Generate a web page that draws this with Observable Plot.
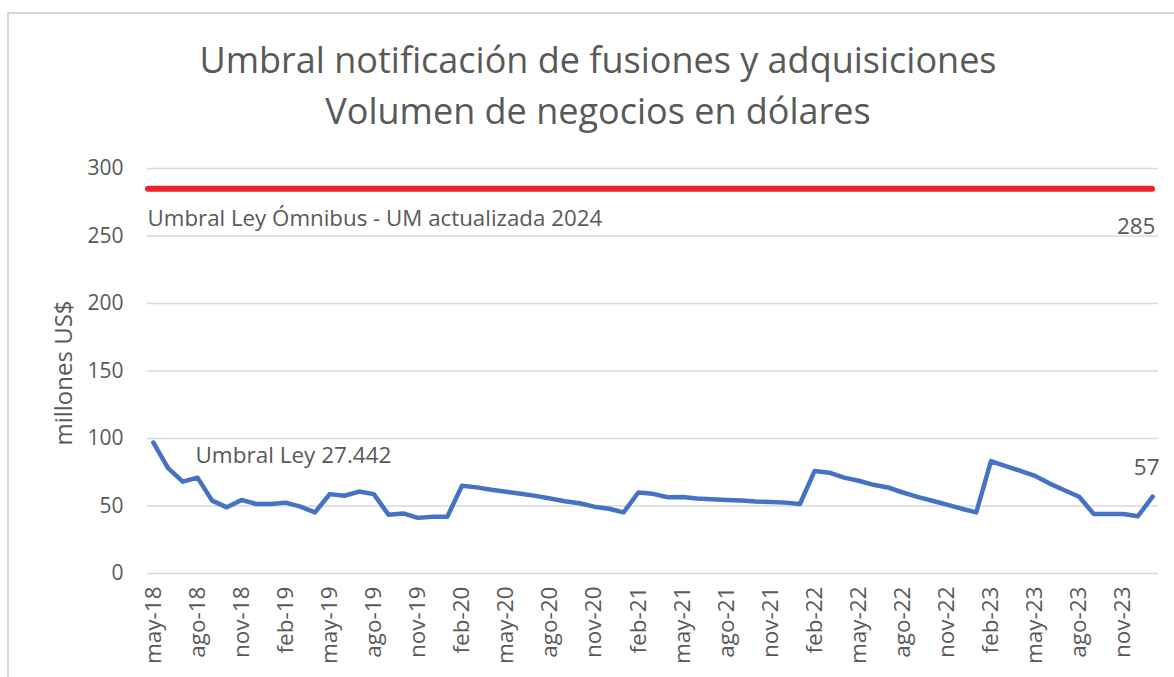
<!DOCTYPE html>
<html><head><meta charset="utf-8">
<script src="https://cdn.jsdelivr.net/npm/d3@7"></script>
<script src="https://cdn.jsdelivr.net/npm/@observablehq/plot@0.6"></script>
<style>
body{margin:0;width:1174px;height:677px;overflow:hidden;background:#fff;font-family:"Open Sans",sans-serif;position:relative}
#frame{position:absolute;left:7px;top:12px;width:1300px;height:800px;border:2px solid #d6d6d6;}
#title{position:relative;height:138px;box-sizing:border-box;padding-top:34px;padding-left:22px;text-align:center;color:#595959;font-size:36px;line-height:51px;}
#chart{position:relative}
</style></head><body>
<div id="frame"></div>
<div id="title"><div>Umbral notificación de fusiones y adquisiciones</div><div>Volumen de negocios en dólares</div></div>
<div id="chart"></div>
<script>
const months = [
  "may-18","jun-18","jul-18","ago-18","sep-18","oct-18","nov-18","dic-18",
  "ene-19","feb-19","mar-19","abr-19","may-19","jun-19","jul-19","ago-19","sep-19","oct-19","nov-19","dic-19",
  "ene-20","feb-20","mar-20","abr-20","may-20","jun-20","jul-20","ago-20","sep-20","oct-20","nov-20","dic-20",
  "ene-21","feb-21","mar-21","abr-21","may-21","jun-21","jul-21","ago-21","sep-21","oct-21","nov-21","dic-21",
  "ene-22","feb-22","mar-22","abr-22","may-22","jun-22","jul-22","ago-22","sep-22","oct-22","nov-22","dic-22",
  "ene-23","feb-23","mar-23","abr-23","may-23","jun-23","jul-23","ago-23","sep-23","oct-23","nov-23","dic-23",
  "ene-24"
];
const values = [
  97, 78, 68, 71, 54, 49, 54.5, 51.5,
  51.5, 52.5, 49.5, 45.3, 58.8, 57.6, 60.7, 58.8, 43.6, 44.5, 41.2, 42,
  42, 65, 63.8, 62, 60.5, 59, 57.5, 55.5, 53.5, 52, 49.5, 48,
  45.3, 60, 59, 56.5, 56.7, 55.5, 55, 54.4, 54, 53.3, 53, 52.5,
  51.5, 76, 74.7, 71, 68.7, 65.7, 63.7, 60, 56.8, 53.9, 51, 48,
  45.3, 83.3, 79.6, 76, 72.3, 66.6, 61.7, 56.8, 44, 44, 44, 42.4,
  57
];
const tickLabels = [
  "may-18","ago-18","nov-18","feb-19","may-19","ago-19","nov-19","feb-20","may-20","ago-20","nov-20",
  "feb-21","may-21","ago-21","nov-21","feb-22","may-22","ago-22","nov-22","feb-23","may-23","ago-23","nov-23"
];
const yTicks = [0, 50, 100, 150, 200, 250, 300];
const umbralOmnibus = 285;
const ultimoValor = 57;

const data = months.map((m, i) => ({month: m, value: values[i]}));
const font = '"Open Sans", sans-serif';
const grey = "#595959";

const chart = Plot.plot({
  width: 1174, height: 539,
  marginTop: 30, marginBottom: 104, marginLeft: 147, marginRight: 16,
  style: {fontFamily: font, color: grey, background: "transparent", overflow: "visible"},
  x: {type: "point", domain: months, padding: 0.4},
  y: {domain: [0, 300]},
  marks: [
    Plot.gridY(yTicks, {stroke: "#d9d9d9", strokeOpacity: 1, strokeWidth: 1.5}),
    Plot.axisY(yTicks, {tickSize: 0, tickPadding: 24, fontSize: 21, label: null, fill: grey}),
    Plot.axisX(tickLabels, {tickSize: 0, tickRotate: -90, tickPadding: 13, fontSize: 22.5, label: null, fill: grey}),
    Plot.ruleY([umbralOmnibus], {stroke: "#ee2229", strokeWidth: 6, strokeLinecap: "round", insetLeft: 1, insetRight: 6}),
    Plot.line(data, {x: "month", y: "value", stroke: "#4472c4", strokeWidth: 4.5, strokeLinejoin: "round"}),
    Plot.text(["millones US$"], {frameAnchor: "left", y: 148.5, dx: -83, rotate: -90, textAnchor: "middle", fontSize: 24, fill: grey}),
    Plot.text(["Umbral Ley Ómnibus - UM actualizada 2024"], {frameAnchor: "left", y: 263, textAnchor: "start", fontSize: 22.3, fill: grey}),
    Plot.text([String(umbralOmnibus)], {frameAnchor: "right", y: 257, dx: -3, textAnchor: "end", fontSize: 22.5, fill: grey}),
    Plot.text(["Umbral Ley 27.442"], {x: () => "ago-18", y: 87.4, dx: -2, textAnchor: "start", fontSize: 22.5, fill: grey}),
    Plot.text([String(ultimoValor)], {x: () => "ene-24", y: 78, dx: -6, textAnchor: "middle", fontSize: 22.5, fill: grey})
  ]
});
document.getElementById("chart").appendChild(chart);
</script>
</body></html>
